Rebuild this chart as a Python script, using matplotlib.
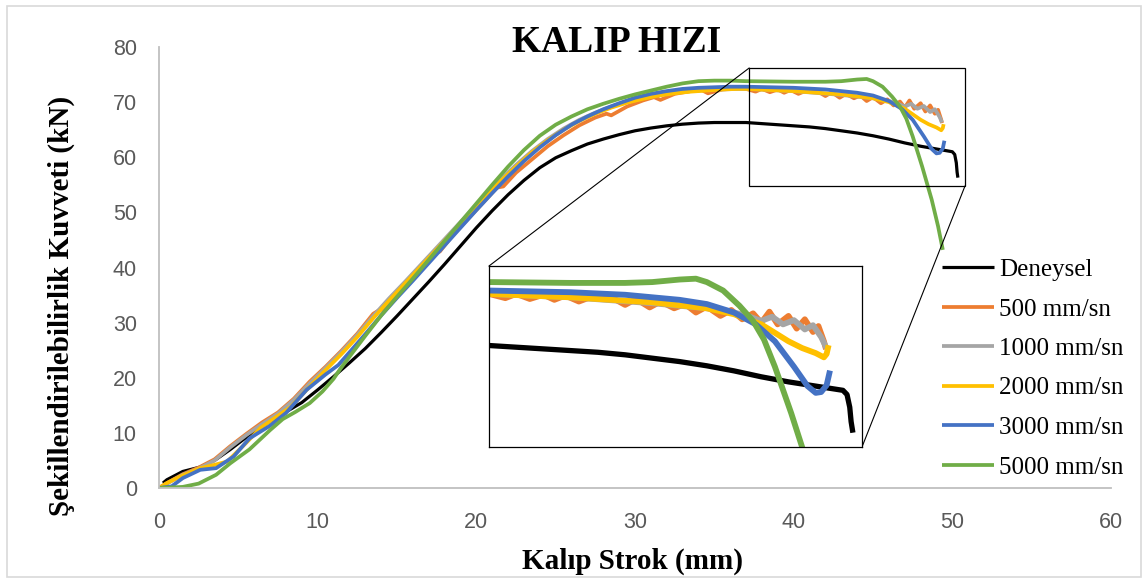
import matplotlib.pyplot as plt
from matplotlib.patches import Rectangle, ConnectionPatch

# Data: stroke (mm) vs forming force (kN)
x_den = [0.25, 0.5, 1.5, 2.6, 3.5, 4.5, 5.5, 6.5, 7.5, 8, 9, 10, 11, 12, 13, 14, 15, 16, 17, 18,
         19, 20, 21, 22, 23, 24, 25, 26, 27, 28, 29, 30, 31, 32, 33, 34, 35, 36, 37, 38, 39, 40,
         41, 42, 43, 44, 45, 46, 47, 48, 49, 49.6, 50.0, 50.15, 50.25, 50.3, 50.35]
y_den = [0.9, 1.5, 3.0, 3.8, 5.0, 7.0, 9.2, 11.2, 13.0, 13.8, 15.5, 17.8, 20.2, 22.7, 25.3, 28.2,
         31.2, 34.3, 37.4, 40.6, 43.9, 47.2, 50.3, 53.2, 55.8, 58.1, 59.9, 61.2, 62.4, 63.3, 64.1,
         64.8, 65.3, 65.7, 66.0, 66.2, 66.3, 66.3, 66.3, 66.1, 65.9, 65.7, 65.5, 65.2, 64.8, 64.4,
         63.9, 63.3, 62.6, 62.0, 61.5, 61.2, 61.0, 60.5, 59.0, 57.3, 56.3]

x_500 = [0, 0.5, 1.5, 2.5, 3.5, 4.5, 5.5, 6.5, 7.5, 8.5, 9.5, 10.5, 11.5, 12.5, 13.5, 13.9, 14.3,
         15.5, 16.5, 17.3, 17.7, 18.5, 19.5, 20.5, 21.3, 21.7, 22.5, 23.5, 24.5, 25.5, 26.5, 27.5,
         28.2, 28.5, 29.5, 30.5, 31.2, 31.6, 32.5, 33.5, 34.2, 34.6, 35.5, 36.5,
         37.0, 37.6, 38.0, 38.5, 39.0, 39.4, 39.8, 40.3, 40.8, 41.6, 42.0, 42.4, 42.9, 43.3, 43.8,
         44.2, 44.6, 45.0, 45.5, 45.9, 46.3, 46.7, 47.0, 47.3, 47.6, 48.0, 48.3, 48.6, 48.9, 49.1,
         49.3, 49.35]
y_500 = [0, 0.9, 2.5, 3.7, 5.2, 7.6, 9.8, 11.9, 13.7, 16.2, 19.3, 22.0, 24.9, 28.0, 31.6, 32.3,
         32.4, 37.0, 40.1, 42.7, 42.9, 45.8, 48.9, 52.0, 54.5, 54.7, 57.2, 59.6, 62.0, 64.0, 65.8,
         67.2, 67.9, 67.6, 69.2, 70.3, 70.9, 70.4, 71.5, 72.0, 72.2, 71.6, 72.3, 72.5,
         72.4, 71.9, 72.4, 71.8, 72.3, 71.7, 72.2, 71.5, 72.1, 71.8, 71.1, 71.8, 70.8, 71.5, 70.7,
         71.2, 70.2, 70.9, 69.8, 70.5, 69.4, 70.1, 69.0, 70.3, 68.8, 69.8, 68.3, 69.4, 67.9, 68.6,
         66.8, 66.2]

x_1000 = [0, 0.5, 1.5, 2.5, 3.5, 4.5, 5.5, 6.5, 7.5, 8.5, 9.5, 10.5, 11.5, 12.5, 13.5, 14.5, 15.5,
          16.5, 17.5, 18.5, 19.5, 20.5, 21.5, 22.5, 23.5, 24.5, 25.5, 26.5, 27.5, 28.5, 29.5, 30.5,
          31.5, 32.5, 33.5, 34.5, 35.5, 36.5, 37, 40, 43, 45, 46, 46.5, 47, 47.4, 47.8, 48.2, 48.6,
          48.9, 49.2, 49.35]
y_1000 = [0, 0.8, 2.4, 3.5, 5.0, 7.4, 9.6, 11.6, 13.5, 16.0, 19.0, 21.8, 24.7, 27.8, 31.2, 34.4,
          37.4, 40.5, 43.6, 46.7, 49.8, 52.9, 55.9, 58.6, 61.1, 63.3, 65.2, 66.8, 68.1, 69.2, 70.1,
          70.8, 71.3, 71.7, 72.0, 72.2, 72.3, 72.4, 72.4, 72.0, 71.3, 70.7, 70.2, 69.8, 69.2, 69.7,
          68.8, 69.3, 68.2, 68.7, 67.3, 66.3]

x_2000 = [0, 0.5, 1.5, 2.6, 3.5, 4.3, 5.5, 6.4, 7.5, 8.3, 9.5, 10.5, 11.5, 12.5, 13.5, 14.5, 15.5,
          16.5, 17.5, 18.5, 19.5, 20.5, 21.5, 22.5, 23.5, 24.5, 25.5, 26.5, 27.5, 28.5, 29.5, 30.5,
          31.5, 32.5, 33.5, 34.5, 35.5, 36.5, 37, 40, 43, 45, 46, 47, 47.5, 48, 48.5, 49, 49.3,
          49.4, 49.45]
y_2000 = [0, 0.9, 2.3, 3.6, 4.2, 4.8, 8.2, 10.9, 13.1, 14.7, 18.4, 21.4, 24.3, 27.4, 30.8, 34.0,
          37.1, 40.2, 43.3, 46.4, 49.5, 52.6, 55.6, 58.3, 60.9, 63.1, 65.0, 66.6, 67.9, 69.0, 69.9,
          70.6, 71.2, 71.6, 71.9, 72.1, 72.3, 72.4, 72.4, 72.0, 71.4, 70.7, 70.0, 68.8, 67.8, 66.8,
          66.0, 65.4, 64.9, 65.3, 66.0]

x_3000 = [0, 0.8, 1.5, 2.6, 3.6, 4.7, 5.7, 7, 8, 9.3, 10.5, 11.3, 12, 13, 14, 15, 16, 17, 18, 19,
          20, 21, 22, 23, 24, 25, 26, 27, 28, 29, 30, 31, 32, 33, 34, 35, 36, 37, 40, 42, 44, 45,
          46, 46.8, 47.5, 48.2, 48.7, 49.0, 49.2, 49.4, 49.5]
y_3000 = [0, 0.3, 1.8, 3.3, 3.6, 5.7, 9.0, 11.3, 13.6, 17.8, 20.6, 22.3, 24.6, 27.9, 31.3, 34.5,
          37.6, 40.8, 44.0, 47.2, 50.4, 53.5, 56.5, 59.3, 61.8, 64.0, 65.9, 67.4, 68.7, 69.8, 70.8,
          71.5, 72.0, 72.4, 72.6, 72.7, 72.8, 72.8, 72.6, 72.3, 71.7, 71.2, 70.2, 68.8, 66.8, 63.8,
          61.5, 60.7, 60.8, 61.6, 63.0]

x_5000 = [0, 1.5, 2.5, 3.6, 4.5, 5.7, 7, 7.8, 8.6, 9.5, 10.3, 11, 11.4, 12, 13, 14, 15, 16, 17, 18,
          19, 20, 21, 22, 23, 24, 25, 26, 27, 28, 29, 30, 31, 32, 33, 34, 35, 36, 37, 40, 42, 43,
          44, 44.6, 45.0, 45.6, 46.2, 46.7, 47.1, 47.5, 48.1, 48.7, 49.1, 49.4]
y_5000 = [0, 0.2, 0.8, 2.4, 4.5, 7.0, 10.5, 12.5, 13.8, 15.4, 17.5, 19.8, 21.5, 23.8, 27.6, 31.3,
          34.7, 38.0, 41.4, 44.8, 48.2, 51.6, 55.0, 58.3, 61.3, 63.9, 65.9, 67.4, 68.7, 69.7, 70.6,
          71.4, 72.1, 72.8, 73.4, 73.8, 73.9, 73.9, 73.8, 73.7, 73.7, 73.8, 74.1, 74.2, 73.8, 72.8,
          71.0, 69.2, 67.0, 63.8, 58.3, 52.3, 47.5, 43.2]

series = [
    ('Deneysel', x_den, y_den, 'black'),
    ('500 mm/sn', x_500, y_500, '#ED7D31'),
    ('1000 mm/sn', x_1000, y_1000, '#A5A5A5'),
    ('2000 mm/sn', x_2000, y_2000, '#FFC000'),
    ('3000 mm/sn', x_3000, y_3000, '#4472C4'),
    ('5000 mm/sn', x_5000, y_5000, '#70AD47'),
]

# zoomed window shown in the inset
zx0, zx1, zy0, zy1 = 37.2, 50.8, 54.8, 76.2

serif = 'Liberation Serif'
W, H = 1143, 579
fig = plt.figure(figsize=(W / 100, H / 100), dpi=100)

ax = fig.add_axes([159 / W, 1 - 488 / H, (1111 - 159) / W, (488 - 47) / H])
for name, xs, ys, c in series:
    ax.plot(xs, ys, color=c, lw=2.3 if c == 'black' else 2.7, label=name, solid_capstyle='butt')

ax.set_xlim(0, 60)
ax.set_ylim(0, 80)
ax.set_xticks(range(0, 61, 10))
ax.set_yticks(range(0, 81, 10))
for s in ['top', 'right']:
    ax.spines[s].set_visible(False)
for s in ['left', 'bottom']:
    ax.spines[s].set_color('#BFBFBF')
    ax.spines[s].set_linewidth(1.3)
ax.tick_params(length=0, labelsize=15.5, labelcolor='#595959')
ax.tick_params(axis='x', pad=17)
ax.tick_params(axis='y', pad=16)
for lab in ax.get_xticklabels() + ax.get_yticklabels():
    lab.set_fontfamily('Liberation Sans')

ax.add_patch(Rectangle((zx0, zy0), zx1 - zx0, zy1 - zy0, fill=False, ec='black', lw=0.9, zorder=5))

# inset
axin = fig.add_axes([489 / W, 1 - 447 / H, (862 - 489) / W, (447 - 266) / H])
axin.set_zorder(6)
axin.set_facecolor('white')
for name, xs, ys, c in series:
    axin.plot(xs, ys, color=c, lw=3.8 if c == 'black' else 4.2)
axin.set_xlim(37.0, 50.7)
axin.set_ylim(54.3, 75.7)
axin.set_xticks([])
axin.set_yticks([])
for s in axin.spines.values():
    s.set_color('black')
    s.set_linewidth(0.9)

for (xa, ya), (xb, yb) in [((zx0, zy1), (0, 1)), ((zx1, zy0), (1, 0))]:
    con = ConnectionPatch(xyA=(xa, ya), coordsA=ax.transData, xyB=(xb, yb), coordsB=axin.transAxes,
                          color='black', lw=0.8)
    fig.add_artist(con)

fig.legend(*ax.get_legend_handles_labels(), loc='upper left', bbox_to_anchor=(919 / W, 1 - 236 / H),
           frameon=False, prop={'family': serif, 'size': 18}, handlelength=2.1, handletextpad=0.2,
           labelspacing=0.68)

fig.text(617 / W, 1 - 43 / H, 'KALIP HIZI', ha='center', va='center', family=serif,
         fontweight='bold', fontsize=27)
fig.text(633 / W, 1 - 561 / H, 'Kalıp Strok (mm)', ha='center', va='center', family=serif,
         fontweight='bold', fontsize=21)
fig.text(61 / W, 1 - 306 / H, 'Şekillendirilebilirlik Kuvveti (kN)', ha='center', va='center',
         rotation=90, family=serif, fontweight='bold', fontsize=21)

# light chart-area border
fig.add_artist(Rectangle((7 / W, 1 - 577 / H), (1141 - 7) / W, (577 - 6) / H, transform=fig.transFigure,
                         fill=False, ec='#D9D9D9', lw=1.2))

fig.savefig('out.png', dpi=100)
